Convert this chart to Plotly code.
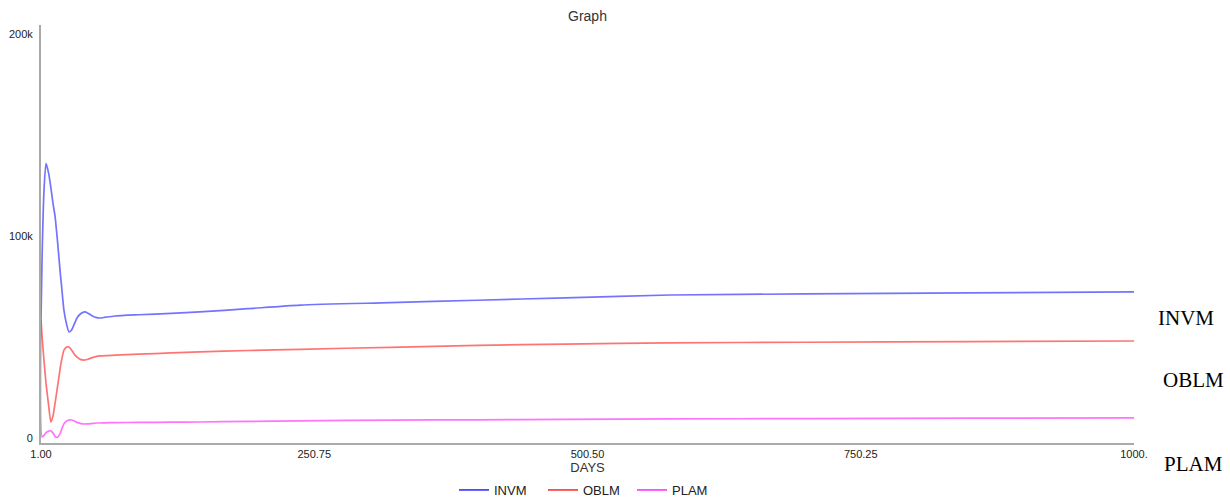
import plotly.graph_objects as go

# ---- data ----
days = [1, 2, 3.7, 5.6, 8, 10, 12, 13.8, 16, 18.4, 20, 22, 24.5, 26.6, 29, 31.5, 34, 37.5,
        41, 44, 48, 52, 55, 60, 68.6, 90, 120, 146, 190, 238, 320, 400, 480, 576, 700, 850, 1000]
invm = [58.5, 90, 122, 136, 131, 124, 116, 110, 98, 83, 74, 63, 56, 52.5, 53.5, 56.5, 59.5, 61.6,
        62.4, 61.8, 60.4, 59.6, 59.4, 59.8, 60.4, 61.0, 61.7, 62.4, 64.0, 65.8, 67.0, 68.2, 69.4, 70.8, 71.3, 71.8, 72.3]
oblm = [58.5, 50, 38.6, 27, 16, 7.9, 11, 17, 25, 34, 39, 43.5, 45, 45, 43.5, 41.5, 40, 38.8,
        38.6, 39.0, 39.8, 40.4, 40.6, 40.8, 41.0, 41.5, 42.1, 42.6, 43.3, 43.9, 44.9, 45.8, 46.5, 47.1, 47.4, 47.7, 48.0]
plam = [58.5, 0.5, 1.2, 2.6, 3.4, 3.5, 2.4, 0.8, 0.3, 2.0, 4.5, 7.0, 8.4, 8.8, 8.9, 8.4, 7.7, 7.1,
        6.9, 7.0, 7.2, 7.4, 7.4, 7.5, 7.6, 7.7, 7.8, 7.9, 8.2, 8.5, 8.8, 9.0, 9.2, 9.4, 9.6, 9.8, 9.9]

series_names = ["INVM", "OBLM", "PLAM"]
series_values = [invm, oblm, plam]
series_colors = ["#0000ff", "#ff0000", "#ff00ff"]
line_colors = ["rgba(0,0,255,0.55)", "rgba(255,0,0,0.55)", "rgba(255,0,255,0.55)"]

x_tick_vals = [1, 250.75, 500.5, 750.25, 1000]
x_tick_text = ["1.00", "250.75", "500.50", "750.25", "1000."]
y_tick_vals = [0, 100000, 200000]
y_tick_text = ["0", "100k", "200k"]

fig = go.Figure()
for name, vals, lc in zip(series_names, series_values, line_colors):
    fig.add_trace(go.Scatter(x=days, y=[v * 1000 for v in vals], mode="lines", name=name,
                             line=dict(color=lc, width=1.7, shape="spline", smoothing=0.6),
                             showlegend=False, hoverinfo="x+y"))
# legend-only entries with solid colours
for name, c in zip(series_names, series_colors):
    fig.add_trace(go.Scatter(x=[None], y=[None], mode="lines", name=name,
                             line=dict(color=c, width=1.3)))

# right-side labels
side_labels = [("INVM", 1.0201, 0.299), ("OBLM", 1.0247, 0.151), ("PLAM", 1.0256, -0.050)]
for txt, xx, yy in side_labels:
    fig.add_annotation(text=txt, xref="paper", yref="paper", x=xx, y=yy, xanchor="left",
                       yanchor="middle", showarrow=False,
                       font=dict(family="Liberation Serif", size=21, color="#000000"))

fig.update_layout(
    width=1230, height=498,
    margin=dict(l=41, r=96, t=25, b=55, autoexpand=False),
    paper_bgcolor="white", plot_bgcolor="white",
    font=dict(family="Liberation Sans", size=11, color="#222222"),
    title=dict(text="Graph", x=0.5, xref="paper", y=1 - 16 / 498, yanchor="middle",
               font=dict(family="Liberation Sans", size=14, color="#333333")),
    legend=dict(orientation="h", x=0.5, xanchor="center", yref="container", y=1 - 490 / 498,
                yanchor="middle",
                font=dict(family="Liberation Sans", size=13, color="#222222"),
                itemwidth=30, tracegroupgap=0, entrywidth=44, entrywidthmode="pixels"),
    xaxis=dict(range=[1, 1000], tickmode="array", tickvals=x_tick_vals, ticktext=x_tick_text,
               showgrid=False, zeroline=False, showline=True, linecolor="#aaaaaa", linewidth=2,
               ticks="", tickfont=dict(size=11, color="#222222"),
               title=dict(text="DAYS", standoff=6, font=dict(size=13, color="#333333"))),
    yaxis=dict(range=[-2500, 204500], tickmode="array", tickvals=y_tick_vals, ticktext=y_tick_text,
               showgrid=False, zeroline=False, showline=True, linecolor="#aaaaaa", linewidth=2,
               ticks="", ticklabelstandoff=4, tickfont=dict(size=11, color="#222222")),
)

fig.write_html("out.html", config={"displayModeBar": False},
               post_script="document.body.style.margin='0';document.body.style.overflow='hidden';")
